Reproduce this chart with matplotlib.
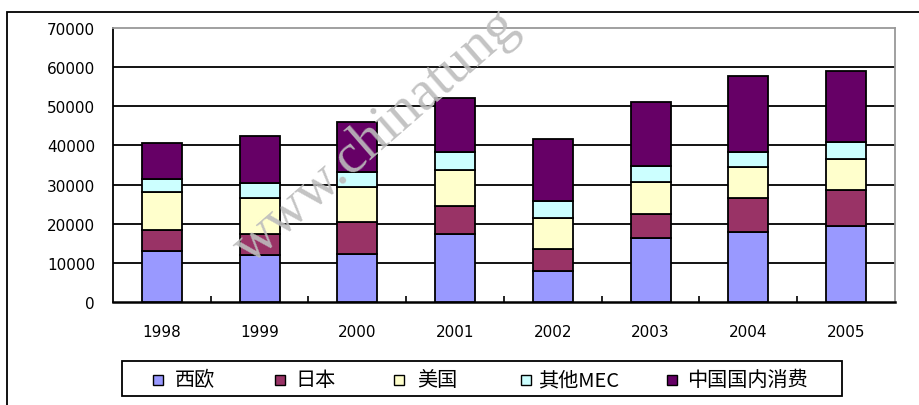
import matplotlib
matplotlib.use("Agg")
import matplotlib.pyplot as plt
from matplotlib.patches import Rectangle
import numpy as np

years = ["1998", "1999", "2000", "2001", "2002", "2003", "2004", "2005"]
series_names = ["西欧", "日本", "美国", "其他MEC", "中国国内消费"]
west_europe = [13000, 12000, 12300, 17300, 7800, 16300, 17800, 19300]
japan = [5500, 5500, 8200, 7200, 5700, 6200, 8700, 9400]
usa = [9500, 9000, 8800, 9300, 8000, 8100, 8100, 7800]
other_mec = [3300, 3900, 4000, 4500, 4400, 4200, 3700, 4300]
china_domestic = [9200, 11900, 12700, 13700, 15700, 16300, 19400, 18300]
yticks = [0, 10000, 20000, 30000, 40000, 50000, 60000, 70000]
watermark = "www.chinatung"

colors = ["#9999FF", "#993366", "#FFFFCC", "#CCFFFF", "#660066"]
series = [west_europe, japan, usa, other_mec, china_domestic]

W, H = 920, 406
fig = plt.figure(figsize=(W / 100, H / 100), dpi=100)
plt.rcParams['font.family'] = ['DejaVu Sans']

def fx(px):
    return px / W

def fy(py):
    return 1 - py / H

# outer frame (partially cropped)
fig.patches.append(Rectangle((fx(7), fy(H + 20)), fx(W + 20) - fx(7), fy(13) - fy(H + 20),
                             transform=fig.transFigure, fill=False, edgecolor="black",
                             linewidth=1.3, zorder=0))

ax = fig.add_axes([fx(113), fy(303), fx(895) - fx(113), fy(29) - fy(303)])
x = np.arange(len(years))
bottom = np.zeros(len(years))
for vals, c in zip(series, colors):
    ax.bar(x, vals, width=0.41, bottom=bottom, color=c, edgecolor="black",
           linewidth=1.3, zorder=3)
    bottom += np.array(vals)

ax.set_xlim(-0.5, len(years) - 0.5)
ax.set_ylim(0, 70000)
ax.set_yticks(yticks)
ax.set_yticklabels([str(v) for v in yticks])
ax.set_xticks(x)
ax.set_xticklabels(years)
ax.set_xticks(np.arange(0.5, len(years) - 1, 1), minor=True)
ax.tick_params(axis="y", length=0, pad=13, labelsize=11)
ax.tick_params(axis="x", which="major", length=0, pad=16, labelsize=11)
ax.tick_params(axis="x", which="minor", direction="in", length=4.5, width=1.2)
for yv in yticks[1:-1]:
    ax.axhline(yv, color="black", linewidth=1.3, zorder=1)
ax.spines["bottom"].set_linewidth(1.8)
ax.spines["left"].set_linewidth(1.3)
ax.spines["top"].set_color("#999999")
ax.spines["right"].set_color("#999999")
ax.spines["top"].set_linewidth(1.3)
ax.spines["right"].set_linewidth(1.3)

# legend box
fig.patches.append(Rectangle((fx(122), fy(397)), fx(842) - fx(122), fy(362) - fy(397),
                             transform=fig.transFigure, fill=False, edgecolor="black",
                             linewidth=1.3))
sq_x = [158, 280, 399, 526, 672]
tx_x = [175, 295, 417, 538, 687]
ly = 381
for name, c, sx, tx in zip(series_names, colors, sq_x, tx_x):
    fig.patches.append(Rectangle((fx(sx - 5), fy(ly + 5)), fx(10), 10 / H,
                                 transform=fig.transFigure, facecolor=c,
                                 edgecolor="black", linewidth=1.0))
    fig.text(fx(tx), fy(ly), name, ha="left", va="center", fontsize=14.5,
             family=["Noto Sans CJK SC", "DejaVu Sans"])

# watermark
fig.text(fx(250), fy(265), watermark, rotation=41, rotation_mode="anchor",
         ha="left", va="baseline", fontsize=41, color="#bdbdbd", alpha=0.9,
         family=["Liberation Serif"], zorder=10)

fig.savefig("out.png", dpi=100)
